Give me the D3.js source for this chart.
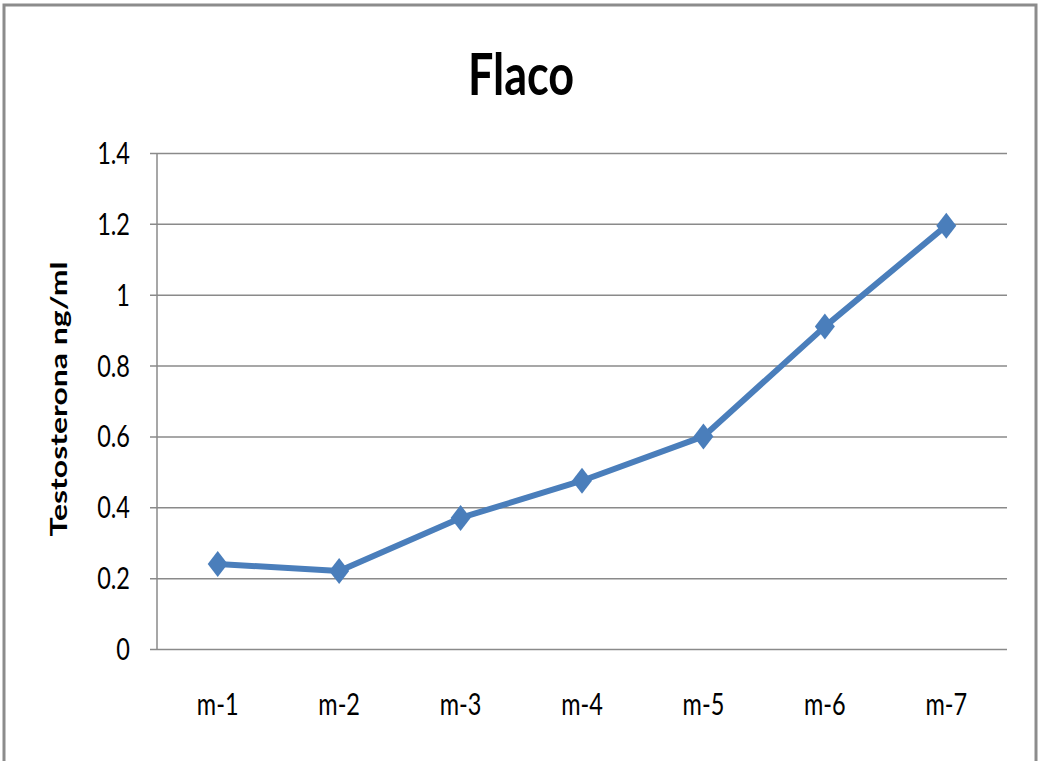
<!DOCTYPE html>
<html>
<head>
<meta charset="utf-8">
<script src="https://cdn.jsdelivr.net/npm/d3@7"></script>
<style>
  html, body { margin: 0; padding: 0; background: #fff; }
  svg { display: block; }
  text { font-family: Lato, "Open Sans", sans-serif; fill: #000; }
</style>
</head>
<body>
<svg id="chart" width="1039" height="761"></svg>
<script>
// Testosterone levels per sample
const categories = ["m-1", "m-2", "m-3", "m-4", "m-5", "m-6", "m-7"];
const values = [0.24, 0.22, 0.37, 0.475, 0.6, 0.91, 1.195];
const yTicks = [0, 0.2, 0.4, 0.6, 0.8, 1, 1.2, 1.4];
const title = "Flaco";
const yLabel = "Testosterona ng/ml";

const W = 1039, H = 761;
const plot = { left: 157, right: 1007, top: 153, bottom: 649 };
const stretch = 1.3; // vertical text stretch

const svg = d3.select("#chart");

// outer frame
svg.append("rect")
  .attr("x", 4).attr("y", 5)
  .attr("width", 1032).attr("height", 758)
  .attr("fill", "#fff")
  .attr("stroke", "#8c8c8c")
  .attr("stroke-width", 3);

const x = d3.scaleBand().domain(categories).range([plot.left, plot.right]);
const y = d3.scaleLinear().domain([0, 1.4]).range([plot.bottom, plot.top]);
const cx = d => x(d) + x.bandwidth() / 2;

// gridlines and y axis ticks
const yAxis = d3.axisLeft(y)
  .tickValues(yTicks)
  .tickSize(plot.right - plot.left + 7)
  .tickFormat("");
const gy = svg.append("g")
  .attr("transform", `translate(${plot.right},0)`)
  .call(yAxis);
gy.select(".domain").remove();
gy.selectAll(".tick line").attr("stroke", "#8a8a8a").attr("stroke-width", 1.5);

// y axis line
svg.append("line")
  .attr("x1", plot.left).attr("x2", plot.left)
  .attr("y1", plot.top).attr("y2", plot.bottom)
  .attr("stroke", "#8a8a8a").attr("stroke-width", 1.5);

// y tick labels
svg.append("g").selectAll("text")
  .data(yTicks)
  .join("text")
  .attr("text-anchor", "end")
  .attr("transform", d => `translate(130,${y(d) + 11}) scale(1,${stretch})`)
  .attr("font-size", 23.5)
  .attr("fill", "#111")
  .text(d => d3.format("")(d));

// x labels
svg.append("g").selectAll("text")
  .data(categories)
  .join("text")
  .attr("text-anchor", "middle")
  .attr("transform", d => `translate(${cx(d)},715) scale(1,${stretch})`)
  .attr("font-size", 23.5)
  .attr("fill", "#111")
  .text(d => d);

// title
svg.append("text")
  .attr("text-anchor", "middle")
  .attr("transform", `translate(521,95) scale(1,1.27)`)
  .attr("font-size", 45)
  .attr("font-weight", "bold")
  .text(title);

// y axis title
svg.append("text")
  .attr("text-anchor", "middle")
  .attr("transform", `translate(67,399) rotate(-90) scale(1.36,1)`)
  .attr("font-size", 23.5)
  .attr("font-weight", "bold")
  .text(yLabel);

// series line
const line = d3.line()
  .x((d, i) => cx(categories[i]))
  .y(d => y(d));
svg.append("path")
  .datum(values)
  .attr("d", line)
  .attr("fill", "none")
  .attr("stroke", "#4a7ebb")
  .attr("stroke-width", 6)
  .attr("stroke-linejoin", "round");

// diamond markers
const hw = 10, hh = 13;
svg.append("g").selectAll("path")
  .data(values)
  .join("path")
  .attr("transform", (d, i) => `translate(${cx(categories[i])},${y(d)})`)
  .attr("d", `M0,${-hh}L${hw},0L0,${hh}L${-hw},0Z`)
  .attr("fill", "#4a7ebb");
</script>
</body>
</html>
